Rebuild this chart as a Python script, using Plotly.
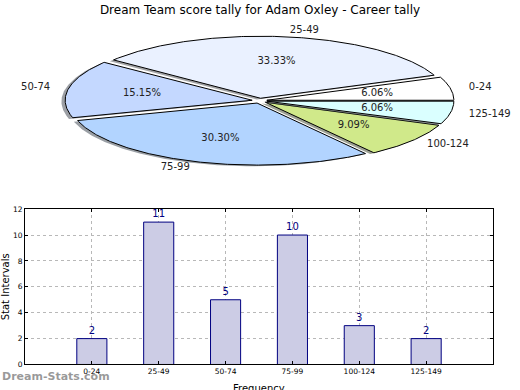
import math
import plotly.graph_objects as go

# ---------------- data ----------------
categories = ["0-24", "25-49", "50-74", "75-99", "100-124", "125-149"]
counts = [2, 11, 5, 10, 3, 2]
pie_colors = ["#FFFFFF", "#EAF1FF", "#C4D8FF", "#B2D4FF", "#D0E98A", "#DAFFFF"]
title_text = "Dream Team score tally for Adam Oxley - Career tally"
y_ticks = [0, 2, 4, 6, 8, 10, 12]

# ---------------- pie layout constants (pixel space of top panel) ----------------
CX, CY, RX, RY = 259.5, 99.0, 187.0, 63.5
EXPLODE = 0.04
SHADOW = (-0.02, -0.02)
LABEL_DIST, PCT_DIST = 1.1, 0.6

fig = go.Figure()

total = sum(counts)
start = 0.0
label_x, label_y, label_pos, pct_x, pct_y, pct_txt = [], [], [], [], [], []


def hex_rgb(h):
    h = h.lstrip("#")
    return tuple(int(h[i:i + 2], 16) for i in (0, 2, 4))


for cat, val, col in zip(categories, counts, pie_colors):
    frac = val / total
    t1 = start * 360.0
    t2 = (start + frac) * 360.0
    mid = math.radians((t1 + t2) / 2)
    ox = CX + EXPLODE * RX * math.cos(mid)
    oy = CY - EXPLODE * RY * math.sin(mid)
    n = max(int(abs(t2 - t1)), 2) * 2
    xs, ys = [ox], [oy]
    for i in range(n + 1):
        a = math.radians(t1 + (t2 - t1) * i / n)
        xs.append(ox + RX * math.cos(a))
        ys.append(oy - RY * math.sin(a))
    xs.append(ox)
    ys.append(oy)
    r, g, b = hex_rgb(col)
    sx = [x + SHADOW[0] * RX for x in xs]
    sy = [y - SHADOW[1] * RY for y in ys]
    fig.add_trace(go.Scatter(
        x=sx, y=sy, fill="toself", mode="lines", line=dict(width=0),
        fillcolor=f"rgba({int(r*0.3)},{int(g*0.3)},{int(b*0.3)},0.5)",
        hoverinfo="skip", showlegend=False, xaxis="x", yaxis="y"))
    fig.add_trace(go.Scatter(
        x=xs, y=ys, fill="toself", mode="lines", line=dict(color="black", width=1),
        fillcolor=col, name=cat, hoverinfo="name", showlegend=False,
        xaxis="x", yaxis="y"))
    lx = ox + LABEL_DIST * RX * math.cos(mid)
    ly = oy - LABEL_DIST * RY * math.sin(mid)
    label_x.append(lx)
    label_y.append(ly)
    label_pos.append("middle right" if math.cos(mid) > 0 else "middle left")
    pct_x.append(ox + PCT_DIST * RX * math.cos(mid))
    pct_y.append(oy - PCT_DIST * RY * math.sin(mid))
    pct_txt.append(f"{frac*100:.2f}%")
    start += frac

fig.add_trace(go.Scatter(
    x=label_x, y=label_y, mode="text", text=categories, textposition=label_pos,
    textfont=dict(family="DejaVu Sans", size=10, color="#222"),
    hoverinfo="skip", showlegend=False, xaxis="x", yaxis="y", cliponaxis=False))
fig.add_trace(go.Scatter(
    x=pct_x, y=pct_y, mode="text", text=pct_txt, textposition="middle center",
    textfont=dict(family="DejaVu Sans", size=10, color="#222"),
    hoverinfo="skip", showlegend=False, xaxis="x", yaxis="y", cliponaxis=False))

# ---------------- bar chart ----------------
fig.add_trace(go.Bar(
    x=categories, y=counts, width=0.45,
    marker=dict(color="#CCCCE5", line=dict(color="#000080", width=1)),
    text=[str(v) for v in counts], textposition="outside",
    textfont=dict(family="DejaVu Sans", size=10, color="#000080"),
    cliponaxis=False, showlegend=False, xaxis="x2", yaxis="y2"))

W, H = 520, 390
fig.update_layout(
    width=W, height=H, margin=dict(l=0, r=0, t=0, b=0),
    paper_bgcolor="white", plot_bgcolor="white",
    font=dict(family="DejaVu Sans", color="black"),
    title=dict(text=title_text, x=0.5, xanchor="center", y=1 - 10 / H, yanchor="middle",
               font=dict(family="DejaVu Sans", size=12, color="black")),
    xaxis=dict(domain=[0, 1], range=[0, W], visible=False, fixedrange=True),
    yaxis=dict(domain=[0.5, 1], range=[195, 0], visible=False, fixedrange=True),
    xaxis2=dict(domain=[25 / W, 493 / W], range=[-1, 6], anchor="y2",
                type="category",
                showline=True, linecolor="black", linewidth=1, mirror="ticks",
                ticks="inside", ticklen=3, tickcolor="black",
                showgrid=True, gridcolor="#b8b8b8", griddash="dot", gridwidth=1,
                tickfont=dict(family="DejaVu Sans", size=7.5, color="black"),
                layer="above traces"),
    yaxis2=dict(domain=[1 - 369 / H, 1 - 210 / H], range=[0, 12], anchor="x2",
                tickvals=y_ticks,
                showline=True, linecolor="black", linewidth=1, mirror="ticks",
                ticks="inside", ticklen=3, tickcolor="black",
                showgrid=True, gridcolor="#b8b8b8", griddash="dot", gridwidth=1,
                zeroline=False,
                tickfont=dict(family="DejaVu Sans", size=7.5, color="black"),
                title=dict(text="Stat Intervals", standoff=6,
                           font=dict(family="DejaVu Sans", size=10, color="black")),
                layer="above traces"),
    annotations=[
        dict(text="Frequency", xref="paper", yref="paper", x=(25 + 493) / 2 / W,
             y=1 - 386 / H, xanchor="center", yanchor="top", showarrow=False,
             font=dict(family="DejaVu Sans", size=10, color="black")),
        dict(text="<b>Dream-Stats.com</b>", xref="paper", yref="paper", x=0,
             y=1 - 381 / H, xanchor="left", yanchor="middle", showarrow=False,
             font=dict(family="DejaVu Sans", size=11, color="rgba(120,120,120,0.75)")),
    ],
)

fig.write_html("out.html", config={"displayModeBar": False, "staticPlot": True},
               post_script="document.body.style.margin='0';document.body.style.overflow='hidden';")
